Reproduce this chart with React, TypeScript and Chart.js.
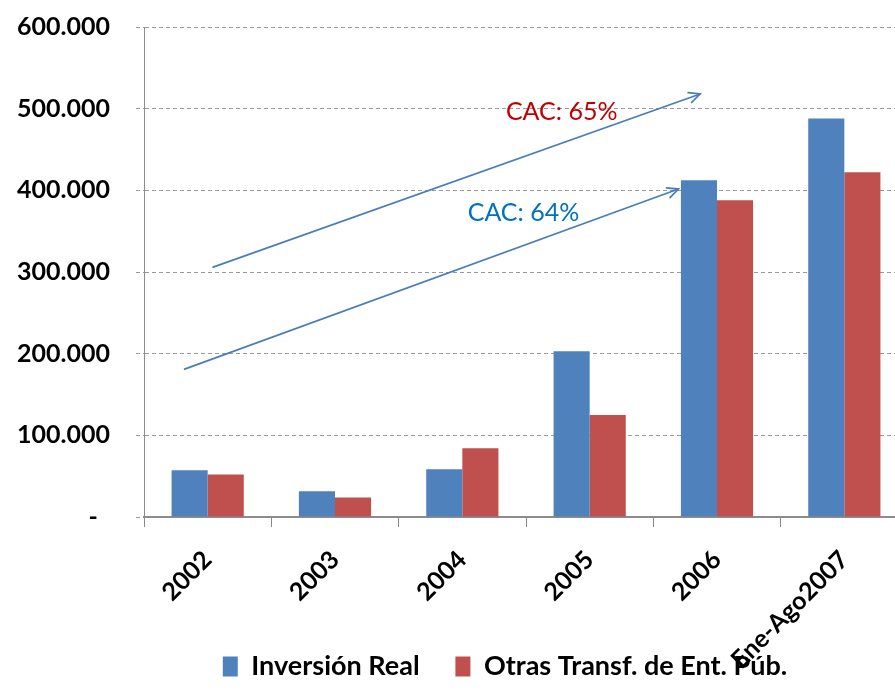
import { useEffect, useRef } from 'react';
import { Chart, registerables } from 'chart.js';

Chart.register(...registerables);

const categories = ['2002', '2003', '2004', '2005', '2006', 'Ene-Ago2007'];
const inversionReal = [57300, 31600, 58500, 203000, 412500, 488000];
const otrasTransf = [52000, 24000, 84300, 124800, 388000, 422000];
const seriesLabels = ['Inversión Real', 'Otras Transf. de Ent. Púb.'];
const seriesColors = ['#4F81BD', '#C0504D'];

// Annotation arrows: [startCategoryIndex, startValue, endCategoryIndex, endValue]
const arrowUpper = [0.043, 306000, 3.867, 518000];
const arrowLower = [-0.181, 181000, 3.697, 401600];
// Annotation labels: [text, categoryIndex, value, colour]
const cacLabels: [string, number, number, string][] = [
  ['CAC: 65%', 2.78, 496000, '#C00000'],
  ['CAC: 64%', 2.48, 372000, '#0070C0'],
];

const FONT = 'Lato, "Open Sans", sans-serif';

function fmt(v: number): string {
  if (v === 0) return '-  ';
  const s = Math.round(v).toString();
  return s.replace(/\B(?=(\d{3})+(?!\d))/g, '.');
}

const annotationPlugin = {
  id: 'cacAnnotations',
  beforeDraw(chart: any) {
    // labels may run outside their axis boxes, as in the original
    if (chart.scales.x) chart.scales.x._computeLabelArea = () => undefined;
    if (chart.scales.y) chart.scales.y._computeLabelArea = () => undefined;
  },
  afterDatasetsDraw(chart: any) {
    const { ctx, scales } = chart;
    const x = scales.x;
    const y = scales.y;
    ctx.save();
    ctx.strokeStyle = '#4A7EBB';
    ctx.lineWidth = 1.75;
    ctx.lineCap = 'round';
    [arrowUpper, arrowLower].forEach((a) => {
      const x1 = x.getPixelForValue(a[0]);
      const y1 = y.getPixelForValue(a[1]);
      const x2 = x.getPixelForValue(a[2]);
      const y2 = y.getPixelForValue(a[3]);
      ctx.beginPath();
      ctx.moveTo(x1, y1);
      ctx.lineTo(x2, y2);
      ctx.stroke();
      const ang = Math.atan2(y2 - y1, x2 - x1);
      const len = 12;
      const spread = Math.PI / 7;
      ctx.beginPath();
      ctx.moveTo(x2 - len * Math.cos(ang - spread), y2 - len * Math.sin(ang - spread));
      ctx.lineTo(x2, y2);
      ctx.lineTo(x2 - len * Math.cos(ang + spread), y2 - len * Math.sin(ang + spread));
      ctx.stroke();
    });
    ctx.font = '25px ' + FONT;
    ctx.textAlign = 'center';
    ctx.textBaseline = 'middle';
    cacLabels.forEach(([t, ci, v, c]) => {
      ctx.fillStyle = c;
      ctx.fillText(t, x.getPixelForValue(ci), y.getPixelForValue(v));
    });
    ctx.restore();
  },
};

export default function App() {
  const ref = useRef<HTMLCanvasElement | null>(null);
  useEffect(() => {
    if (!ref.current) return;
    Chart.defaults.color = '#000';
    const chart = new Chart(ref.current, {
      type: 'bar',
      data: {
        labels: categories,
        datasets: [
          { label: seriesLabels[0], data: inversionReal, backgroundColor: seriesColors[0], borderWidth: 0 },
          { label: seriesLabels[1], data: otrasTransf, backgroundColor: seriesColors[1], borderWidth: 0 },
        ],
      },
      options: {
        responsive: false,
        animation: false,
        layout: { padding: { left: 102, top: 27, right: 0, bottom: 0 } },
        datasets: { bar: { categoryPercentage: 0.567, barPercentage: 1 } },
        plugins: {
          legend: {
            position: 'bottom',
            labels: {
              boxWidth: 15,
              boxHeight: 20,
              padding: 9,
              color: '#000',
              font: { family: FONT, size: 27, weight: 'bold' },
              generateLabels: (c: any) => {
                const items = Chart.defaults.plugins.legend.labels.generateLabels(c);
                items.forEach((it: any, i: number) => {
                  if (i < items.length - 1) it.text = it.text + '\u2003 ';
                });
                return items;
              },
            },
          },
          tooltip: { enabled: false },
        },
        scales: {
          x: {
            afterFit: (s: any) => { s.height = 127; },
            grid: { display: true, drawOnChartArea: false, drawTicks: true, tickLength: 10, color: '#888', tickWidth: 1 },
            border: { display: true, color: '#8C8C8C', width: 2 },
            ticks: {
              autoSkip: false,
              minRotation: 45,
              maxRotation: 45,
              padding: 18,
              color: '#000',
              font: { family: FONT, size: 25, weight: 'bold' },
            },
          },
          y: {
            min: 0,
            max: 600000,
            afterFit: (s: any) => {
              s.width = 42;
              s.paddingTop = 10;
              s.paddingBottom = 10;
            },
            grid: { color: '#9A9A9A', lineWidth: 1, tickLength: 8, tickBorderDash: [4, 3] },
            border: { display: true, color: '#8C8C8C', width: 1, dash: [4, 3] },
            ticks: {
              stepSize: 100000,
              padding: 26,
              color: '#000',
              font: { family: FONT, size: 25, weight: 'bold' },
              callback: (v: any) => fmt(Number(v)),
            },
          },
        },
      },
      plugins: [annotationPlugin],
    } as any);
    return () => chart.destroy();
  }, []);
  return (
    <div style={{ position: 'fixed', left: 0, top: 0, width: 895, height: 690, overflow: 'hidden', background: '#fff' }}>
      <canvas ref={ref} width={908} height={690} style={{ width: 908, height: 690, display: 'block' }} />
    </div>
  );
}
